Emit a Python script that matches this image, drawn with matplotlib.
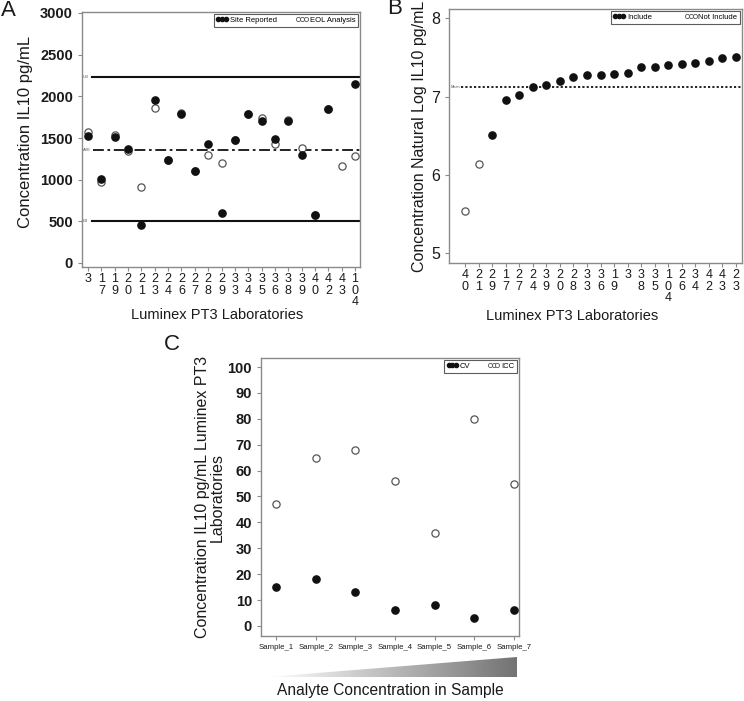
import numpy as np
import matplotlib
matplotlib.use("Agg")
import matplotlib.pyplot as plt
from matplotlib.lines import Line2D
from matplotlib.patches import Polygon

plt.rcParams['font.family'] = ['Liberation Sans', 'DejaVu Sans']

# ---------------- data ----------------
labs_a = ["3", "17", "19", "20", "21", "23", "24", "26", "27", "28", "29",
          "33", "34", "35", "36", "38", "39", "40", "42", "43", "104"]
site_reported = [1530, 1010, 1515, 1365, 460, 1960, 1240, 1785, 1100, 1430, 600,
                 1475, 1790, 1700, 1490, 1700, 1295, 575, 1850, np.nan, 2150]
eol_analysis = [1575, 970, 1540, 1340, 910, 1860, 1240, 1800, 1100, 1300, 1205,
                1475, 1790, 1745, 1430, 1720, 1380, 575, 1850, 1165, 1290]
ub_a, ave_a, lb_a = 2235, 1360, 500

labs_b = ["40", "21", "29", "17", "27", "24", "39", "20", "28", "33", "36",
          "19", "3", "38", "35", "104", "26", "34", "42", "43", "23"]
log_conc = [5.53, 6.14, 6.51, 6.95, 7.02, 7.12, 7.15, 7.20, 7.245, 7.27, 7.27,
            7.29, 7.30, 7.38, 7.38, 7.40, 7.42, 7.43, 7.45, 7.49, 7.50]
included = [False, False] + [True] * 19
mean_b = 7.125

samples = ["Sample_1", "Sample_2", "Sample_3", "Sample_4", "Sample_5", "Sample_6", "Sample_7"]
cv = [15, 18, 13, 6, 8, 3, 6]
icc = [47, 65, 68, 56, 36, 80, 55]

# ---------------- figure ----------------
W, H = 744, 701
fig = plt.figure(figsize=(W / 100, H / 100), dpi=100)

def ax_at(x0, y0, x1, y1):
    return fig.add_axes([x0 / W, 1 - y1 / H, (x1 - x0) / W, (y1 - y0) / H])

txt = "#1a1a1a"
spine_c = "#8a8a8a"
ms = 5.2

def style(ax):
    for s in ax.spines.values():
        s.set_color(spine_c)
        s.set_linewidth(1.0)
    ax.tick_params(colors=spine_c, labelcolor=txt, length=3, width=0.8)
    ax.tick_params(axis='x', pad=1.5)

def stacked(s):
    return "\n".join(list(s))

def legend(ax, labels, colsp):
    h = [Line2D([], [], marker='o', ls='none', mfc='#111111', mec='#111111', ms=3),
         Line2D([], [], marker='o', ls='none', mfc='white', mec='#555555', mew=0.6, ms=3)]
    leg = ax.legend(h, labels, loc='upper right', ncol=2, numpoints=3, fontsize=5.5,
                    frameon=True, fancybox=False, borderaxespad=0.25, handlelength=1.6,
                    handletextpad=0.2, columnspacing=colsp, borderpad=0.35)
    leg.get_frame().set_edgecolor('#333333')
    leg.get_frame().set_linewidth(0.8)
    return leg

# ---------- Panel A ----------
axA = ax_at(82, 12, 360, 267)
style(axA)
xa = np.arange(len(labs_a))
axA.plot(xa, eol_analysis, 'o', ls='none', mfc='white', mec='#555555', mew=0.9, ms=ms, zorder=3)
axA.plot(xa, site_reported, 'o', ls='none', mfc='#111111', mec='#111111', ms=ms, zorder=4)
axA.axhline(ub_a, xmin=0.035, xmax=1, color='#111111', lw=1.5)
axA.axhline(lb_a, xmin=0.035, xmax=1, color='#111111', lw=1.5)
axA.axhline(ave_a, xmin=0.04, xmax=1, color='#111111', lw=1.3, ls=(0, (6, 2, 1.5, 2)))
for val, lab in [(ub_a, "UB"), (ave_a, "AVE"), (lb_a, "LB")]:
    axA.text(0.004, val, lab, transform=axA.get_yaxis_transform(), fontsize=3,
             va='center', ha='left', color='#555555')
axA.set_xlim(-0.45, 20.37)
axA.set_ylim(-48, 3012)
axA.set_yticks([0, 500, 1000, 1500, 2000, 2500, 3000])
axA.set_yticklabels(["0", "500", "1000", "1500", "2000", "2500", "3000"],
                    fontsize=10.5, fontweight='bold')
axA.set_xticks(xa)
axA.set_xticklabels([stacked(s) for s in labs_a], fontsize=9, linespacing=0.95, va='top')
axA.set_ylabel("Concentration IL10 pg/mL", fontsize=12, color=txt)
axA.yaxis.set_label_coords(-0.176, 0.53)
axA.set_xlabel("Luminex PT3 Laboratories", fontsize=10.5, color=txt)
axA.xaxis.set_label_coords(0.486, -0.19)
axA.xaxis.label.set_va('center')
legend(axA, ["Site Reported", "EOL Analysis"], 2.5)

# ---------- Panel B ----------
axB = ax_at(449, 9, 742, 263)
style(axB)
xb = np.arange(len(labs_b))
inc = np.array(included)
lc = np.array(log_conc)
axB.plot(xb[inc], lc[inc], 'o', ls='none', mfc='#111111', mec='#111111', ms=ms, zorder=4)
axB.plot(xb[~inc], lc[~inc], 'o', ls='none', mfc='white', mec='#555555', mew=0.9, ms=ms, zorder=4)
axB.axhline(mean_b, xmin=0.04, xmax=1, color='#111111', lw=1.3, ls=(0, (1.2, 1.2)))
axB.text(0.004, mean_b, "Mean", transform=axB.get_yaxis_transform(), fontsize=2.8,
         va='center', ha='left', color='#555555')
axB.set_xlim(-1.18, 20.44)
axB.set_ylim(4.87, 8.12)
axB.set_yticks([5, 6, 7, 8])
axB.set_yticklabels(["5", "6", "7", "8"], fontsize=11.5)
axB.set_xticks(xb)
axB.set_xticklabels([stacked(s) for s in labs_b], fontsize=9, linespacing=0.95, va='top')
axB.set_ylabel("Concentration Natural Log IL10 pg/mL", fontsize=11.5, color=txt)
axB.yaxis.set_label_coords(-0.075, 0.5)
axB.set_xlabel("Luminex PT3 Laboratories", fontsize=10.5, color=txt)
axB.xaxis.set_label_coords(0.42, -0.21)
axB.xaxis.label.set_va('center')
legend(axB, ["Include", "Not Include"], 4.3)

# ---------- Panel C ----------
axC = ax_at(261, 358, 519, 636)
style(axC)
xc = np.arange(len(samples))
axC.plot(xc, icc, 'o', ls='none', mfc='white', mec='#555555', mew=0.9, ms=ms, zorder=4)
axC.plot(xc, cv, 'o', ls='none', mfc='#111111', mec='#111111', ms=ms, zorder=4)
axC.set_xlim(-0.38, 6.13)
axC.set_ylim(-3.9, 103.5)
axC.set_yticks(np.arange(0, 101, 10))
axC.set_yticklabels([str(v) for v in range(0, 101, 10)], fontsize=10.5, fontweight='bold')
axC.set_xticks(xc)
axC.set_xticklabels(samples, fontsize=5.6)
axC.tick_params(axis='x', pad=3)
axC.set_ylabel("Concentration IL10 pg/mL Luminex PT3\nLaboratories", fontsize=11.5,
               color=txt, linespacing=1.0)
axC.yaxis.set_label_coords(-0.14, 0.5)
legend(axC, ["CV", "ICC"], 2.2)

# gradient wedge
axG = ax_at(267, 657, 517, 677)
axG.set_axis_off()
grad = np.linspace(1.0, 0.45, 256)[None, :]
im = axG.imshow(grad, cmap='gray', vmin=0, vmax=1, aspect='auto', extent=[0, 1, 0, 1])
tri = Polygon([[0, 0], [1, 0], [1, 1]], closed=True, transform=axG.transData,
              facecolor='none', edgecolor='none')
axG.add_patch(tri)
im.set_clip_path(tri)
axG.set_xlim(0, 1)
axG.set_ylim(0, 1)

fig.text(390 / W, 1 - 690 / H, "Analyte Concentration in Sample", fontsize=11.2,
         ha='center', va='center', color=txt)

# panel letters
fig.text(8 / W, 1 - 10 / H, "A", fontsize=16, ha='center', va='center', color=txt)
fig.text(395 / W, 1 - 9 / H, "B", fontsize=16, ha='center', va='center', color=txt)
fig.text(172 / W, 1 - 345 / H, "C", fontsize=16, ha='center', va='center', color=txt)

fig.savefig("out.png", dpi=100, facecolor='white')
